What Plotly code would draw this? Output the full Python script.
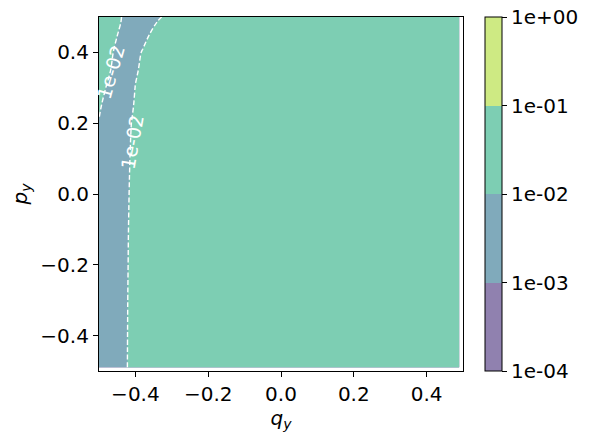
import plotly.graph_objects as go

# grid (log10 of the plotted quantity)
q_y = [-0.5, -0.48, -0.46, -0.44, -0.43, -0.42, -0.41, -0.40, -0.38, -0.36, -0.34, -0.32, -0.30, 0.0, 0.49]
p_y = [-0.49, -0.3, -0.1, 0.1, 0.2, 0.25, 0.3, 0.35, 0.4, 0.45, 0.5]
log_z = [
    [-2.5, -2.5, -2.5, -2.5, -2.24, -1.94, -1.5, -1.5, -1.5, -1.5, -1.5, -1.5, -1.5, -1.5, -1.5],
    [-2.5, -2.5, -2.5, -2.5, -2.27, -1.97, -1.5, -1.5, -1.5, -1.5, -1.5, -1.5, -1.5, -1.5, -1.5],
    [-2.5, -2.5, -2.5, -2.5, -2.5, -2.03, -1.73, -1.5, -1.5, -1.5, -1.5, -1.5, -1.5, -1.5, -1.5],
    [-2.5, -2.5, -2.5, -2.5, -2.5, -2.15, -1.85, -1.5, -1.5, -1.5, -1.5, -1.5, -1.5, -1.5, -1.5],
    [-2.03, -2.5, -2.5, -2.5, -2.5, -2.27, -1.97, -1.5, -1.5, -1.5, -1.5, -1.5, -1.5, -1.5, -1.5],
    [-1.9, -2.2, -2.5, -2.5, -2.5, -2.5, -2.15, -1.85, -1.5, -1.5, -1.5, -1.5, -1.5, -1.5, -1.5],
    [-1.72, -2.02, -2.5, -2.5, -2.5, -2.5, -2.27, -1.97, -1.5, -1.5, -1.5, -1.5, -1.5, -1.5, -1.5],
    [-1.7, -1.82, -2.12, -2.5, -2.5, -2.5, -2.5, -2.12, -1.82, -1.5, -1.5, -1.5, -1.5, -1.5, -1.5],
    [-1.6, -1.715, -2.015, -2.5, -2.5, -2.5, -2.5, -2.24, -1.94, -1.5, -1.5, -1.5, -1.5, -1.5, -1.5],
    [-1.6, -1.6, -1.835, -2.135, -2.5, -2.5, -2.5, -2.5, -2.27, -1.97, -1.5, -1.5, -1.5, -1.5, -1.5],
    [-1.6, -1.6, -1.6, -1.94, -2.24, -2.5, -2.5, -2.5, -2.5, -2.5, -2.18, -1.88, -1.5, -1.5, -1.5],
]

levels = [-4, -3, -2, -1, 0]
level_text = ["1e-04", "1e-03", "1e-02", "1e-01", "1e+00"]
line_label = "1e-02"

# viridis at alpha 0.6 over white
band_colors = ["#9081af", "#80aabb", "#7dceb3", "#ceea83"]
# contour fill samples the scale at band centres (0.2, 0.4, 0.6, 0.8)
fill_scale = [
    [0.0, band_colors[0]], [0.3, band_colors[0]],
    [0.3, band_colors[1]], [0.5, band_colors[1]],
    [0.5, band_colors[2]], [0.7, band_colors[2]],
    [0.7, band_colors[3]], [1.0, band_colors[3]],
]
# colorbar spans exactly -4..0
bar_scale = [
    [0.0, band_colors[0]], [0.25, band_colors[0]],
    [0.25, band_colors[1]], [0.5, band_colors[1]],
    [0.5, band_colors[2]], [0.75, band_colors[2]],
    [0.75, band_colors[3]], [1.0, band_colors[3]],
]

font = "DejaVu Sans"

fig = go.Figure()
fig.add_trace(go.Contour(
    x=q_y, y=p_y, z=log_z,
    colorscale=fill_scale,
    contours=dict(start=levels[0], end=levels[-1], size=1, coloring="fill"),
    line=dict(color="white", width=1.4, dash="5px,2.5px"),
    showscale=False,
    hoverinfo="skip",
))

# colorbar carrier
fig.add_trace(go.Scatter(
    x=[None], y=[None], mode="markers",
    marker=dict(
        color=[levels[0], levels[-1]], cmin=levels[0], cmax=levels[-1],
        colorscale=bar_scale, showscale=True,
        colorbar=dict(
            tickvals=levels, ticktext=level_text, ticklabeloverflow="allow",
            x=1.06, xanchor="left", xpad=0, y=0.5, yanchor="middle", ypad=0,
            len=1, lenmode="fraction", thickness=17,
            outlinecolor="black", outlinewidth=1,
            ticks="outside", ticklen=5, tickcolor="black",
            tickfont=dict(family=font, size=20, color="black"),
        ),
    ),
    hoverinfo="skip", showlegend=False,
))

# inline contour labels
fig.add_annotation(x=-0.468, y=0.345, text=line_label, showarrow=False, textangle=-74,
                   font=dict(family=font, size=19, color="white"))
fig.add_annotation(x=-0.410, y=0.148, text=line_label, showarrow=False, textangle=-80,
                   font=dict(family=font, size=19, color="white"))

axis_common = dict(
    showgrid=False, zeroline=False, showline=True, mirror=True, automargin=False,
    linecolor="black", linewidth=1.1, ticks="outside", ticklen=5,
    tickcolor="black", tickfont=dict(family=font, size=20, color="black"),
    range=[-0.5, 0.5],
)
fig.update_xaxes(**axis_common, tickvals=[-0.4, -0.2, 0.0, 0.2, 0.4], tickformat=".1f",
                 title=dict(text="<i>q<sub>y</sub></i>", font=dict(family=font, size=20), standoff=4))
fig.update_yaxes(**axis_common, tickvals=[-0.4, -0.2, 0.0, 0.2, 0.4], tickformat=".1f",
                 title=dict(text="<i>p<sub>y</sub></i>", font=dict(family=font, size=20), standoff=12))

# page body adds an 8px offset, so the figure is drawn 8px smaller
fig.update_layout(
    width=584, height=431,
    margin=dict(l=91, r=129, t=9, b=68, autoexpand=False),
    plot_bgcolor="white", paper_bgcolor="white",
    font=dict(family=font, color="black"),
    showlegend=False,
)

fig.write_html("out.html")
